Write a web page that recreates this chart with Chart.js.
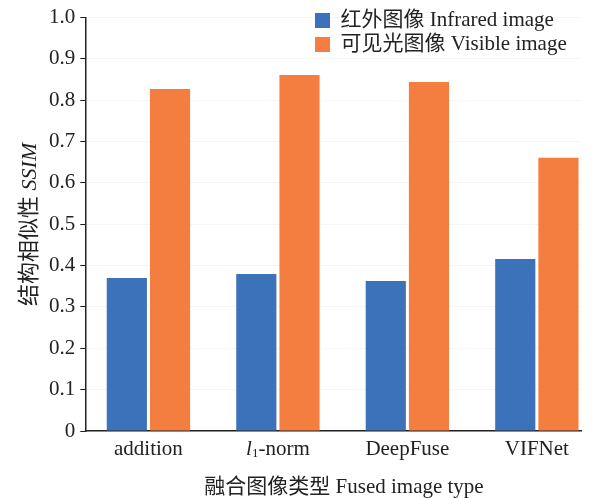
<!DOCTYPE HTML>
<html lang="zh">
<head>
    <meta charset="UTF-8">
    <title>SSIM</title>
    <script src="https://cdn.jsdelivr.net/npm/chart.js"></script>
    <style>
        body {
            margin: 0;
            padding: 0;
            background-color: #fff;
        }
        #box {
            position: relative;
            width: 607px;
            height: 498px;
        }
    </style>
</head>
<body>
<div id="box">
    <canvas id="myChart" width="607" height="498"></canvas>
</div>
<script>
    // Данные
    var categories = ['addition', 'l1-norm', 'DeepFuse', 'VIFNet'];
    var infrared = [0.370, 0.380, 0.363, 0.416];
    var visible = [0.827, 0.861, 0.844, 0.661];
    var yTicks = [0, 0.1, 0.2, 0.3, 0.4, 0.5, 0.6, 0.7, 0.8, 0.9, 1.0];

    var serif = '"Liberation Serif", "Noto Sans CJK SC", serif';
    var ink = '#222';

    function points(arr) {
        return arr.map(function (v, i) { return {x: i, y: v}; });
    }

    // рисует строку из кусочков с разными шрифтами, по центру x
    function drawParts(ctx, parts, cx, cy) {
        var total = 0;
        parts.forEach(function (p) {
            ctx.font = p.font;
            p.w = ctx.measureText(p.t).width;
            total += p.w;
        });
        var x = cx - total / 2;
        parts.forEach(function (p) {
            ctx.font = p.font;
            ctx.fillText(p.t, x, cy + (p.dy || 0));
            x += p.w;
        });
    }

    // подписи осей и категорий (курсив), плюс сдвиг легенды внутрь поля графика
    var extras = {
        id: 'extras',
        afterLayout: function (chart) {
            var lg = chart.legend;
            var w = lg.right - lg.left, h = lg.bottom - lg.top;
            lg.left = 312;
            lg.top = 7;
            lg.right = lg.left + w;
            lg.bottom = lg.top + h;
        },
        afterDraw: function (chart) {
            var ctx = chart.ctx;
            var area = chart.chartArea;
            var xs = chart.scales.x;
            var f = '21px ' + serif, fi = 'italic 21px ' + serif;
            ctx.save();
            ctx.fillStyle = ink;
            ctx.textBaseline = 'middle';
            ctx.textAlign = 'left';

            // категории
            categories.forEach(function (c, i) {
                var parts;
                if (c === 'l1-norm') {
                    parts = [
                        {t: 'l', font: fi},
                        {t: '1', font: '13px ' + serif, dy: 5},
                        {t: '-norm', font: f}
                    ];
                } else {
                    parts = [{t: c, font: f}];
                }
                drawParts(ctx, parts, xs.getPixelForValue(i), area.bottom + 18);
            });

            // подпись оси X
            drawParts(ctx, [{t: '融合图像类型 Fused image type', font: f}], 344, 487);

            // подпись оси Y
            ctx.translate(30, (area.top + area.bottom) / 2);
            ctx.rotate(-Math.PI / 2);
            drawParts(ctx, [
                {t: '结构相似性 ', font: '22px ' + serif},
                {t: 'SSIM', font: 'italic 22px ' + serif}
            ], 0, 0);
            ctx.restore();
        }
    };

    var ctx = document.getElementById('myChart').getContext('2d');
    var myChart = new Chart(ctx, {
        type: 'bar',
        data: {
            datasets: [
                {
                    label: '红外图像 Infrared image',
                    data: points(infrared),
                    backgroundColor: '#3B72BA'
                },
                {
                    label: '可见光图像 Visible image',
                    data: points(visible),
                    backgroundColor: '#F47E40'
                }
            ]
        },
        options: {
            responsive: false,
            animation: false,
            categoryPercentage: 0.667,
            barPercentage: 0.93,
            layout: {
                padding: {left: 44, right: 26, top: 5, bottom: 59}
            },
            plugins: {
                legend: {
                    position: 'chartArea',
                    align: 'start',
                    labels: {
                        boxWidth: 15,
                        boxHeight: 15,
                        padding: 3,
                        color: ink,
                        font: {family: serif, size: 21}
                    }
                },
                tooltip: {enabled: false}
            },
            scales: {
                x: {
                    type: 'linear',
                    offset: false,
                    min: -0.488,
                    max: 3.341,
                    afterBuildTicks: function (scale) {
                        scale.ticks = categories.map(function (c, i) { return {value: i}; });
                    },
                    grid: {display: false},
                    border: {color: ink, width: 1.5},
                    ticks: {display: false}
                },
                y: {
                    min: 0,
                    max: 1.0,
                    afterBuildTicks: function (scale) {
                        scale.ticks = yTicks.map(function (v) { return {value: v}; });
                    },
                    grid: {
                        color: 'rgba(0,0,0,0.04)',
                        tickColor: ink,
                        tickLength: 5
                    },
                    border: {color: ink, width: 1.5},
                    ticks: {
                        color: ink,
                        font: {family: serif, size: 21},
                        padding: 5,
                        callback: function (v) { return v === 0 ? '0' : v.toFixed(1); }
                    }
                }
            }
        },
        plugins: [extras]
    });
</script>
</body>
</html>
